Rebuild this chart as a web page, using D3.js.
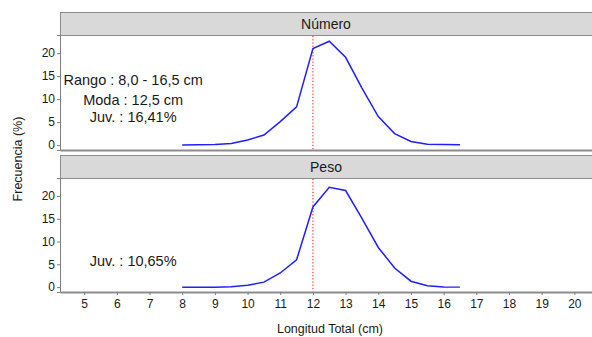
<!DOCTYPE html>
<html>
<head>
<meta charset="utf-8">
<script src="https://cdn.jsdelivr.net/npm/d3@7"></script>
<style>
  html, body { margin: 0; padding: 0; background: #fff; }
  svg { display: block; font-family: "Liberation Sans", Arial, sans-serif; }
</style>
</head>
<body>
<svg id="chart"></svg>
<script>
// ─── Data ──────────────────────────────────────────────────────────────────
const tallas = [8, 8.5, 9, 9.5, 10, 10.5, 11, 11.5, 12, 12.5, 13, 13.5, 14, 14.5, 15, 15.5, 16, 16.5];
const numero = [0, 0.05, 0.1, 0.35, 1.1, 2.2, 5.1, 8.3, 21.0, 22.6, 19.1, 12.4, 6.2, 2.5, 0.8, 0.2, 0.1, 0.05];
const peso   = [0, 0, 0, 0.1, 0.4, 1.1, 3.1, 6.0, 17.6, 21.9, 21.2, 15.1, 8.7, 4.2, 1.3, 0.3, 0.05, 0];
const xTicks = d3.range(5, 21);
const yTicks = [0, 5, 10, 15, 20];
const tallaMinima = 12;

const panels = [
  { name: "Número", values: numero, notes: ["Rango : 8,0 - 16,5 cm", "Moda : 12,5 cm", "Juv. : 16,41%"], noteY: [14.2, 9.8, 6.1] },
  { name: "Peso",   values: peso,   notes: ["Juv. : 10,65%"], noteY: [5.8] },
];

// ─── Layout ────────────────────────────────────────────────────────────────
const W = 592, H = 337;
const PX0 = 60, PX1 = 592;
const STRIP_H = 23;
const panelBox = [
  { stripTop: 12,  top: 35,  bottom: 150 },
  { stripTop: 155, top: 178, bottom: 292 },
];

const svg = d3.select("#chart").attr("width", W).attr("height", H);

const x = d3.scaleLinear().domain([4.26, 20.54]).range([PX0, PX1]);
const line = d3.line().x(d => x(d[0]));

panels.forEach((p, i) => {
  const b = panelBox[i];
  const y = d3.scaleLinear().domain([-1.07, 23.95]).range([b.bottom, b.top]);
  const g = svg.append("g");

  // strip
  g.append("rect")
    .attr("x", PX0 + 0.5).attr("y", b.stripTop + 0.5)
    .attr("width", PX1 - PX0 + 2).attr("height", STRIP_H)
    .attr("fill", "#d9d9d9").attr("stroke", "#8c8c8c").attr("stroke-width", 1);
  g.append("text")
    .attr("x", (PX0 + PX1) / 2).attr("y", b.stripTop + STRIP_H / 2 + 5)
    .attr("text-anchor", "middle").attr("font-size", "14px").attr("fill", "#1a1a1a")
    .text(p.name);

  // y axis
  const ya = g.append("g").attr("transform", `translate(${PX0},0)`)
    .call(d3.axisLeft(y).tickValues(yTicks).tickSize(3).tickPadding(2));
  ya.select(".domain").attr("stroke", "#7f7f7f").attr("stroke-width", 1);
  ya.selectAll(".tick line").attr("stroke", "#7f7f7f");
  ya.selectAll(".tick text").attr("font-size", "12px").attr("fill", "#1a1a1a").attr("font-family", null);

  // bottom axis
  const xa = g.append("g").attr("transform", `translate(0,${b.bottom})`)
    .call(d3.axisBottom(x).tickValues(i === 1 ? xTicks : []).tickSize(3).tickPadding(4).tickSizeOuter(0));
  xa.select(".domain").attr("stroke", "#8c8c8c").attr("stroke-width", 2);
  xa.selectAll(".tick line").attr("stroke", "#7f7f7f");
  xa.selectAll(".tick text").attr("font-size", "12px").attr("fill", "#1a1a1a").attr("font-family", null);

  // red dotted line
  g.append("line")
    .attr("x1", x(tallaMinima)).attr("x2", x(tallaMinima))
    .attr("y1", b.top + 1).attr("y2", b.bottom - 1)
    .attr("stroke", "#ff0000").attr("stroke-width", 1).attr("stroke-dasharray", "1.2,2");

  // curve
  line.y(d => y(d[1]));
  g.append("path")
    .datum(tallas.map((t, k) => [t, p.values[k]]))
    .attr("d", line)
    .attr("fill", "none").attr("stroke", "#1f1fff").attr("stroke-width", 1.5);

  // notes
  p.notes.forEach((txt, k) => {
    g.append("text")
      .attr("x", x(6.5)).attr("y", y(p.noteY[k]) + 5)
      .attr("text-anchor", "middle").attr("font-size", "14.5px").attr("fill", "#1a1a1a")
      .text(txt);
  });
});

// axis titles
svg.append("text")
  .attr("x", (PX0 + PX1) / 2 + 4).attr("y", 333)
  .attr("text-anchor", "middle").attr("font-size", "12.5px").attr("fill", "#1a1a1a")
  .text("Longitud Total (cm)");
svg.append("text")
  .attr("transform", `translate(22,159) rotate(-90)`)
  .attr("text-anchor", "middle").attr("font-size", "12.5px").attr("fill", "#1a1a1a")
  .text("Frecuencia (%)");
</script>
</body>
</html>
